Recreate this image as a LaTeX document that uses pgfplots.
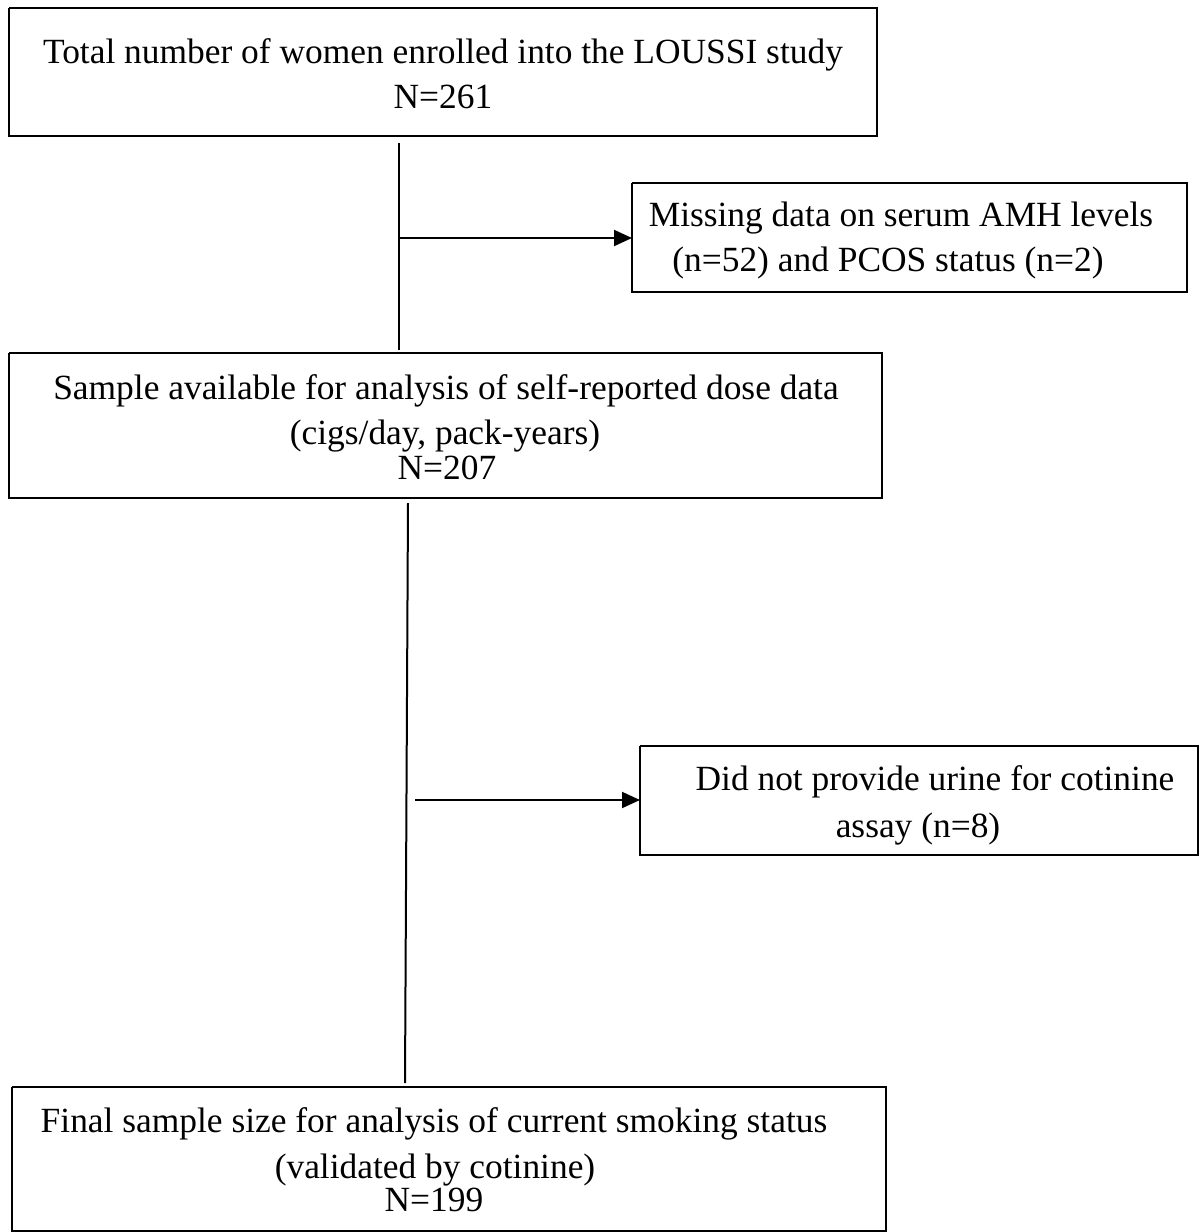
\documentclass[border=0pt]{standalone}
\usepackage{pgfplots}
\pgfplotsset{compat=1.18}
\usetikzlibrary{arrows.meta}
\usepackage{fontspec}
\setmainfont{Liberation Serif}

\begin{document}
\begin{tikzpicture}
\begin{axis}[
  scale only axis,
  width=599.5pt, height=616pt,
  xmin=0, xmax=1199,
  ymin=0, ymax=1232,
  y dir=reverse,
  hide axis,
  clip=false,
  fc/.style={black, solid, line width=1pt, mark=none},
  nodes={font=\fontsize{17.7}{20}\selectfont, anchor=base, inner sep=0pt},
]
\coordinate (ll) at (axis cs:0,1232);
\coordinate (ur) at (axis cs:1199,0);
% boxes
\addplot[fc] coordinates {(9,8) (877,8) (877,136) (9,136) (9,8)};
\addplot[fc] coordinates {(632,183) (1187,183) (1187,292) (632,292) (632,183)};
\addplot[fc] coordinates {(9,353) (882,353) (882,498) (9,498) (9,353)};
\addplot[fc] coordinates {(640,746) (1198,746) (1198,855) (640,855) (640,746)};
\addplot[fc] coordinates {(12,1087) (886,1087) (886,1231) (12,1231) (12,1087)};
% connectors
\addplot[fc] coordinates {(399,143) (399,350)};
\addplot[fc, -{Triangle[length=9pt,width=8pt]}] coordinates {(399,238) (632,238)};
\addplot[fc] coordinates {(408,503) (405,1083)};
\addplot[fc, -{Triangle[length=9pt,width=8pt]}] coordinates {(415,800) (640,800)};
% texts
\node at (axis cs:443,63) {Total number of women enrolled into the LOUSSI study};
\node at (axis cs:443,108) {N=261};
\node at (axis cs:901,226) {Missing data on serum AMH levels};
\node at (axis cs:888,271) {(n=52) and PCOS status (n=2)};
\node at (axis cs:446,399) {Sample available for analysis of self-reported dose data};
\node at (axis cs:445,444) {(cigs/day, pack-years)};
\node at (axis cs:447,479) {N=207};
\node at (axis cs:935,790) {Did not provide urine for cotinine};
\node at (axis cs:918,837) {assay (n=8)};
\node at (axis cs:434,1132) {Final sample size for analysis of current smoking status};
\node at (axis cs:435,1178) {(validated by cotinine)};
\node at (axis cs:434,1211) {N=199};
\end{axis}
\pgfresetboundingbox
\useasboundingbox (ll) rectangle (ur);
\end{tikzpicture}
\end{document}
